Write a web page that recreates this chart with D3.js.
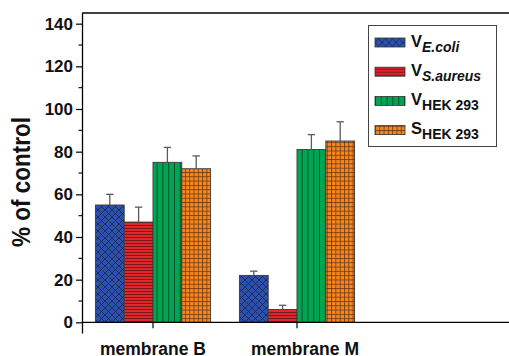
<!DOCTYPE html>
<html>
<head>
<meta charset="utf-8">
<script src="https://cdn.jsdelivr.net/npm/d3@7"></script>
<style>
body { margin: 0; background: #fff; }
svg { display: block; font-family: Arial, "Liberation Sans", sans-serif; }
</style>
</head>
<body>
<div id="chart"></div>
<script>
// data
const groups = ["membrane B", "membrane M"];
const series = ["ecoli", "saureus", "hek", "shek"];
const valuesB = [55, 47, 75, 72];
const valuesM = [22, 6, 81, 85];
const errorsB = [5, 7, 7, 6];
const errorsM = [2, 2, 7, 9];
const yTicks = [0, 20, 40, 60, 80, 100, 120, 140];

const colors = { ecoli: "#2b50ad", saureus: "#e3262b", hek: "#00a551", shek: "#f7861f" };

const width = 509, height = 356;
const svg = d3.select("#chart").append("svg")
	.attr("width", width)
	.attr("height", height);

const rows = [];
groups.forEach((g, gi) => {
	const vals = gi === 0 ? valuesB : valuesM;
	const errs = gi === 0 ? errorsB : errorsM;
	series.forEach((s, i) => rows.push({group: g, key: s, value: vals[i], err: errs[i]}));
});

const plotLeft = 82, plotTop = 13, plotRight = 509;
const y = d3.scaleLinear().domain([-5, 145]).range([333, 13]);
const x0 = d3.scaleBand().domain(groups).range([81, 369]);
const x1 = d3.scaleBand().domain(series).range([0, x0.bandwidth()]).paddingOuter(0.5);

// patterns
const defs = svg.append("defs");
const pat = (id, w, h, bg, draw) => {
	const p = defs.append("pattern").attr("id", id)
		.attr("patternUnits", "userSpaceOnUse")
		.attr("width", w).attr("height", h);
	p.append("rect").attr("width", w).attr("height", h).attr("fill", bg);
	draw(p);
};
pat("p-ecoli", 7, 7, colors.ecoli, p => {
	p.append("path").attr("d", "M0,0L7,7M7,0L0,7")
		.attr("stroke", "#18264d").attr("stroke-width", 0.8);
});
pat("p-saureus", 4, 3, colors.saureus, p => {
	p.append("path").attr("d", "M0,0.5L4,0.5")
		.attr("stroke", "#5a1414").attr("stroke-width", 0.8);
});
pat("p-hek", 5.8, 4, colors.hek, p => {
	p.append("path").attr("d", "M0.5,0L0.5,4")
		.attr("stroke", "#14402a").attr("stroke-width", 0.9);
});
pat("p-shek", 4.3, 4.3, colors.shek, p => {
	p.append("path").attr("d", "M0.5,0L0.5,4.3M0,0.5L4.3,0.5")
		.attr("stroke", "#5a3010").attr("stroke-width", 0.7);
});

// bars
svg.append("g").selectAll("rect")
	.data(rows)
	.join("rect")
	.attr("x", d => x0(d.group) + x1(d.key))
	.attr("y", d => y(d.value))
	.attr("width", x1.bandwidth())
	.attr("height", d => y(0) - y(d.value))
	.attr("fill", d => `url(#p-${d.key})`)
	.attr("stroke", "#3a3a3a")
	.attr("stroke-width", 0.9);

// error bars (upper half only)
const eb = svg.append("g").attr("stroke", "#5a5a5a").attr("stroke-width", 1.3);
eb.selectAll("line.v").data(rows).join("line")
	.attr("x1", d => x0(d.group) + x1(d.key) + x1.bandwidth() / 2)
	.attr("x2", d => x0(d.group) + x1(d.key) + x1.bandwidth() / 2)
	.attr("y1", d => y(d.value))
	.attr("y2", d => y(d.value + d.err));
eb.selectAll("line.c").data(rows).join("line")
	.attr("x1", d => x0(d.group) + x1(d.key) + x1.bandwidth() / 2 - 3.7)
	.attr("x2", d => x0(d.group) + x1(d.key) + x1.bandwidth() / 2 + 3.7)
	.attr("y1", d => y(d.value + d.err))
	.attr("y2", d => y(d.value + d.err));

// frame lines
svg.append("line").attr("x1", plotLeft).attr("x2", plotRight).attr("y1", plotTop).attr("y2", plotTop)
	.attr("stroke", "#000").attr("stroke-width", 1.3);
svg.append("line").attr("x1", plotLeft).attr("x2", plotRight).attr("y1", y(0)).attr("y2", y(0))
	.attr("stroke", "#000").attr("stroke-width", 1.3);

// y axis
const yAxis = svg.append("g")
	.attr("transform", `translate(${plotLeft},0)`)
	.call(d3.axisLeft(y).tickValues(yTicks).tickSize(6).tickPadding(3).tickSizeOuter(0));
yAxis.select(".domain").attr("stroke-width", 1.3);
yAxis.selectAll(".tick line").attr("stroke-width", 1.2);
yAxis.selectAll(".tick text")
	.attr("font-size", 17).attr("font-weight", "bold").attr("fill", "#111")
	.attr("font-family", "Arial, 'Liberation Sans', sans-serif");
svg.append("g")
	.attr("transform", `translate(${plotLeft},0)`)
	.selectAll("line")
	.data(d3.range(10, 150, 20))
	.join("line")
	.attr("x1", -3.5).attr("x2", 0)
	.attr("y1", d => y(d)).attr("y2", d => y(d))
	.attr("stroke", "#000").attr("stroke-width", 1.1);

// x axis ticks and labels
svg.append("g").selectAll("line")
	.data(groups)
	.join("line")
	.attr("x1", d => x0(d) + x0.bandwidth() / 2)
	.attr("x2", d => x0(d) + x0.bandwidth() / 2)
	.attr("y1", y(0)).attr("y2", y(0) + 6)
	.attr("stroke", "#000").attr("stroke-width", 1.2);
svg.append("g").selectAll("text")
	.data(groups)
	.join("text")
	.attr("x", (d, i) => x0(d) + x0.bandwidth() / 2 + (i === 0 ? 0 : 8))
	.attr("y", 354.5)
	.attr("text-anchor", "middle")
	.attr("font-size", 17.5).attr("font-weight", "bold").attr("fill", "#111")
	.text(d => d);

// y title
svg.append("text")
	.attr("transform", "translate(30,182) rotate(-90) scale(0.9,1)")
	.attr("text-anchor", "middle")
	.attr("font-size", 25).attr("font-weight", "bold").attr("fill", "#111")
	.text("% of control");

// legend
const legendNames = [
	{key: "ecoli", main: "V", sub: "E.coli", italic: true},
	{key: "saureus", main: "V", sub: "S.aureus", italic: true},
	{key: "hek", main: "V", sub: "HEK 293", italic: false},
	{key: "shek", main: "S", sub: "HEK 293", italic: false}
];
const lg = svg.append("g");
lg.append("rect").attr("x", 368.5).attr("y", 25.5).attr("width", 128).attr("height", 121)
	.attr("fill", "#fff").attr("stroke", "#444").attr("stroke-width", 1);
const item = lg.selectAll("g.item").data(legendNames).join("g")
	.attr("transform", (d, i) => `translate(375,${42.5 + i * 29.2})`);
item.append("rect").attr("x", 0).attr("y", -4.5).attr("width", 30).attr("height", 9)
	.attr("fill", d => `url(#p-${d.key})`).attr("stroke", "#333").attr("stroke-width", 0.8);
const t = item.append("text").attr("x", 36).attr("y", 4)
	.attr("font-weight", "bold").attr("fill", "#111");
t.append("tspan").attr("font-size", 16.5).text(d => d.main);
t.append("tspan").attr("font-size", 14).attr("dy", 5)
	.attr("font-style", d => d.italic ? "italic" : "normal")
	.text(d => d.sub);
</script>
</body>
</html>
